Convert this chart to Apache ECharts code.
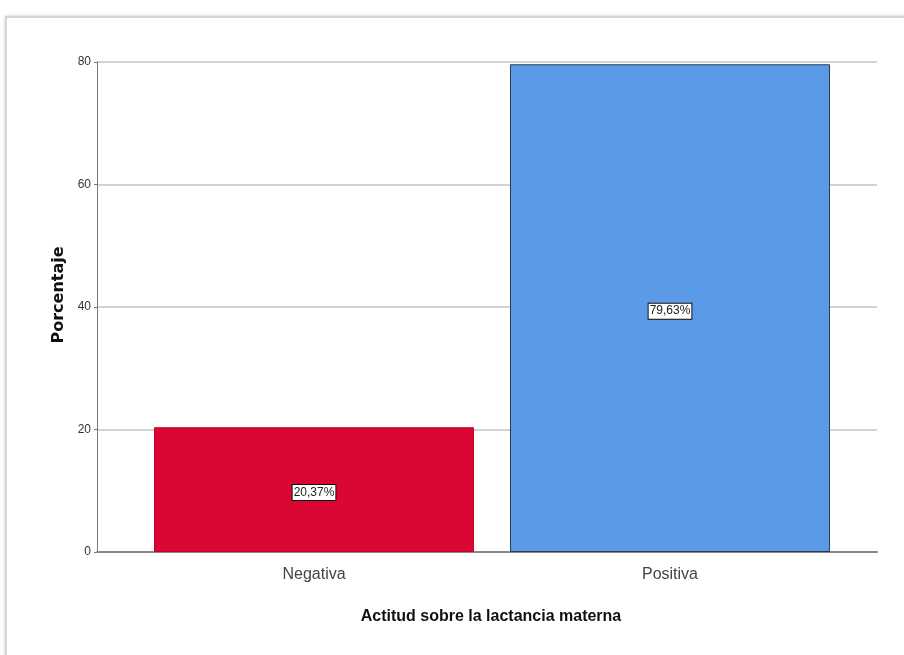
<!DOCTYPE html>
<html>
<head>
<meta charset="utf-8">
<script src="https://cdn.jsdelivr.net/npm/echarts@6/dist/echarts.min.js"></script>
<style>
html,body{margin:0;padding:0;background:#fff;width:904px;height:655px;overflow:hidden;}
#frame{position:absolute;left:5px;top:16px;width:960px;height:700px;border:2px solid #d6d6d6;box-shadow:0 0 3px #c8c8c8;background:#fff;}
#chart{position:absolute;left:0;top:0;width:904px;height:655px;}
</style>
</head>
<body>
<div id="frame"></div>
<div id="chart"></div>
<script>
const categories = ["Negativa", "Positiva"];
const percentages = [20.37, 79.63];
const yTicks = [0, 20, 40, 60, 80];
const barColors = ["#DA0634", "#5B9AE6"];
const xTitle = "Actitud sobre la lactancia materna";
const yTitle = "Porcentaje";

const chart = echarts.init(document.getElementById('chart'), null, {renderer: 'canvas'});
const narrow = "'Liberation Sans Narrow', 'Arial Narrow', 'Liberation Sans', Arial, sans-serif";

chart.setOption({
  animation: false,
  grid: {left: 97, right: 27, top: 62, bottom: 103, containLabel: false},
  xAxis: {
    type: 'value',
    min: -0.6096,
    max: 1.5815,
    splitLine: {show: false},
    axisLine: {show: true, onZero: false, lineStyle: {color: '#888', width: 2}},
    axisTick: {show: false},
    axisLabel: {
      customValues: [0, 1],
      formatter: v => categories[Math.round(v)] || '',
      color: '#444', fontSize: 16, fontFamily: narrow, margin: 15
    },
    name: xTitle,
    nameLocation: 'middle',
    nameGap: 57,
    nameTextStyle: {color: '#111', fontSize: 16, fontWeight: 'bold', fontFamily: narrow, padding: [0, 0, 0, 8]}
  },
  yAxis: {
    type: 'value',
    min: yTicks[0], max: yTicks[yTicks.length - 1], interval: 20,
    axisLine: {show: true, onZero: false, lineStyle: {color: '#777', width: 1}},
    axisTick: {show: true, length: 3, lineStyle: {color: '#777'}},
    splitLine: {show: true, lineStyle: {color: '#d2d2d2', width: 2}},
    axisLabel: {color: '#333', fontSize: 12, fontFamily: narrow, margin: 6},
    name: yTitle,
    nameLocation: 'middle',
    nameGap: 30,
    nameRotate: 90,
    nameTextStyle: {color: '#111', fontSize: 16, fontWeight: 'bold', fontFamily: "'DejaVu Sans', 'Liberation Sans', Arial, sans-serif", padding: [0, 0, 0, 24]}
  },
  series: [{
    type: 'bar',
    barWidth: 320,
    data: percentages.map((v, i) => ({
      value: [i, v],
      itemStyle: {color: barColors[i], borderColor: i === 1 ? '#2b3a4f' : '#c0042a', borderWidth: 1}
    })),
    label: {
      show: true,
      position: 'inside',
      offset: [0, 3],
      formatter: p => p.value[1].toFixed(2).replace('.', ',') + '%',
      backgroundColor: '#fff',
      borderColor: '#111',
      borderWidth: 1,
      padding: [2, 1, 1, 1],
      color: '#222',
      fontSize: 12,
      fontFamily: narrow
    }
  }]
});
</script>
</body>
</html>
